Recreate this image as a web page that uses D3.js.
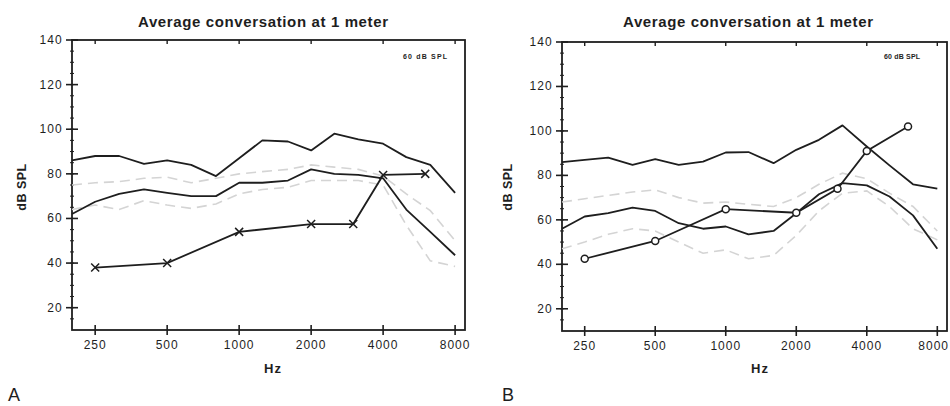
<!DOCTYPE html>
<html>
<head>
<meta charset="utf-8">
<script src="https://cdn.jsdelivr.net/npm/d3@7"></script>
<style>
  html, body { margin: 0; padding: 0; background: #fff; }
  svg { display: block; font-family: "Liberation Sans", Arial, sans-serif; }
</style>
</head>
<body>
<svg id="chart" width="950" height="406"></svg>
<script>
// 1/3-octave bands of the speech spectrum curves
const BAND_HZ = [200, 250, 315, 400, 500, 630, 800, 1000, 1250, 1600, 2000, 2500, 3150, 4000, 5000, 6300, 8000];
// audiometric frequencies of the measured curve
const AUDIO_HZ = [250, 500, 1000, 2000, 3000, 4000, 6000];

const X_TICKS = [250, 500, 1000, 2000, 4000, 8000];
const Y_TICKS = [20, 40, 60, 80, 100, 120, 140];
const Y_MINOR = d3.range(15, 140, 5);

const TITLE = 'Average conversation at 1 meter';
const LEVEL_NOTE = '60 dB SPL';

// panel A
const A_UPPER = [86, 88, 88, 84.5, 86, 84, 79, 87, 95, 94.5, 90.5, 98, 95.5, 93.5, 87.5, 84, 71.5];
const A_MIDDLE = [62, 67.5, 71, 73, 71.5, 70, 70, 76, 76, 77, 82, 80, 79.5, 78, 64, 54, 43.5];
const A_GRAY_HIGH = [75, 76, 76.5, 78, 78.5, 76, 78, 80, 81, 82, 84, 83, 82, 79, 71, 63.5, 50];
const A_GRAY_LOW = [64, 66, 64, 68, 66, 64.5, 66.5, 71, 73, 74, 77, 77, 77, 75, 57, 41, 38.5];
const A_MEASURED = [38, 40, 54, 57.5, 57.5, 79.5, 80];

// panel B
const B_UPPER = [86, 87, 88, 84.7, 87.3, 84.7, 86.2, 90.3, 90.5, 85.5, 91.5, 96, 102.5, 93, 84.5, 76, 74];
const B_MIDDLE = [56, 61.5, 63, 65.5, 64, 58.5, 56, 57, 53.5, 55, 63, 71.5, 76.5, 75.5, 70.5, 62, 47];
const B_GRAY_HIGH = [68, 69.5, 71, 72.5, 73.5, 70, 67.5, 68, 67, 66, 70, 76, 81, 78.5, 72, 66, 55];
const B_GRAY_LOW = [47, 50, 53.5, 56, 55, 50, 45, 46.5, 42.5, 44, 53, 64, 72, 73, 66, 56, 51];
const B_MEASURED = [42.5, 50.5, 64.8, 63.2, 74, 91, 102];

const panels = [
  {
    letter: 'A', marker: 'cross',
    upper: A_UPPER, middle: A_MIDDLE, grayHigh: A_GRAY_HIGH, grayLow: A_GRAY_LOW, measured: A_MEASURED,
    box: { left: 72, right: 465, top: 40, bottom: 330 },
    titleX: 263, noteX: 425, noteLen: 44, yTitleX: 22, hzX: 273, letterX: 8,
  },
  {
    letter: 'B', marker: 'circle',
    upper: B_UPPER, middle: B_MIDDLE, grayHigh: B_GRAY_HIGH, grayLow: B_GRAY_LOW, measured: B_MEASURED,
    box: { left: 562, right: 947, top: 42, bottom: 331 },
    titleX: 748, noteX: 902, noteLen: 36, yTitleX: 508, hzX: 760, letterX: 502,
  },
];

const INK = '#1e1e1e';
const WIDTH = 950;
const svg = d3.select('#chart');

function crossPath(s) {
  return `M${-s},${-s}L${s},${s}M${-s},${s}L${s},${-s}`;
}

function drawPanel(p) {
  let b = p.box;
  let x = d3.scaleLog().domain([200, 8800]).range([b.left, b.right]);
  let y = d3.scaleLinear().domain([10, 140]).range([b.bottom, b.top]);

  let g = svg.append('g');

  // title + level note
  g.append('text')
    .attr('x', p.titleX).attr('y', 27)
    .attr('text-anchor', 'middle')
    .attr('font-size', 15).attr('font-weight', 'bold')
    .attr('textLength', 250).attr('lengthAdjust', 'spacing')
    .attr('fill', INK)
    .text(TITLE);

  g.append('text')
    .attr('x', p.noteX).attr('y', 59)
    .attr('text-anchor', 'middle')
    .attr('font-size', 7).attr('font-weight', 'bold')
    .attr('textLength', p.noteLen).attr('lengthAdjust', 'spacing')
    .attr('fill', INK)
    .text(LEVEL_NOTE);

  // frame
  g.append('rect')
    .attr('x', b.left).attr('y', b.top)
    .attr('width', b.right - b.left).attr('height', b.bottom - b.top)
    .attr('fill', 'none').attr('stroke', INK).attr('stroke-width', 1.8);

  // left axis: crossing major ticks, small minor ticks
  g.selectAll('line.ymin').data(Y_MINOR).join('line')
    .attr('x1', b.left - 2).attr('x2', b.left + 2)
    .attr('y1', d => y(d)).attr('y2', d => y(d))
    .attr('stroke', INK).attr('stroke-width', 1);
  g.selectAll('line.ymaj').data(Y_TICKS).join('line')
    .attr('x1', b.left - 6).attr('x2', b.left + 6)
    .attr('y1', d => y(d)).attr('y2', d => y(d))
    .attr('stroke', INK).attr('stroke-width', 1.6);
  g.selectAll('text.ylab').data(Y_TICKS).join('text')
    .attr('x', b.left - 9).attr('y', d => y(d) + 4)
    .attr('text-anchor', 'end')
    .attr('font-size', 12).attr('letter-spacing', 1.2)
    .attr('fill', INK)
    .text(d => d);

  // bottom and top ticks
  g.selectAll('line.xmaj').data(X_TICKS).join('line')
    .attr('x1', d => x(d)).attr('x2', d => x(d))
    .attr('y1', b.bottom - 5).attr('y2', b.bottom + 5)
    .attr('stroke', INK).attr('stroke-width', 1.6);
  g.selectAll('line.xtop').data(X_TICKS).join('line')
    .attr('x1', d => x(d)).attr('x2', d => x(d))
    .attr('y1', b.top).attr('y2', b.top + 4)
    .attr('stroke', INK).attr('stroke-width', 1.4);
  g.selectAll('text.xlab').data(X_TICKS).join('text')
    .attr('x', d => x(d)).attr('y', b.bottom + 19)
    .attr('text-anchor', 'middle')
    .attr('font-size', 12).attr('letter-spacing', 1)
    .attr('fill', INK)
    .text(d => d)
    // keep the last label inside the page
    .each(function(d) {
      let half = this.getComputedTextLength() / 2;
      let cx = x(d);
      if (cx + half > WIDTH - 1) d3.select(this).attr('x', WIDTH - 1 - half);
    });

  // axis titles
  g.append('text')
    .attr('transform', `translate(${p.yTitleX + 4}, 187) rotate(-90)`)
    .attr('text-anchor', 'middle')
    .attr('font-size', 12.5).attr('font-weight', 'bold').attr('letter-spacing', 0.5)
    .attr('fill', INK)
    .text('dB SPL');
  g.append('text')
    .attr('x', p.hzX).attr('y', 373)
    .attr('text-anchor', 'middle')
    .attr('font-size', 13).attr('font-weight', 'bold').attr('letter-spacing', 1)
    .attr('fill', INK)
    .text('Hz');

  g.append('text')
    .attr('x', p.letterX).attr('y', 401)
    .attr('font-size', 18)
    .attr('fill', INK)
    .text(p.letter);

  // curves
  let line = d3.line()
    .x((d, i) => x(BAND_HZ[i]))
    .y(d => y(d));

  [p.grayHigh, p.grayLow].forEach(vals => {
    g.append('path')
      .attr('d', line(vals))
      .attr('fill', 'none')
      .attr('stroke', '#d4d4d4').attr('stroke-width', 1.6)
      .attr('stroke-dasharray', '10,6');
  });

  [p.upper, p.middle].forEach(vals => {
    g.append('path')
      .attr('d', line(vals))
      .attr('fill', 'none')
      .attr('stroke', INK).attr('stroke-width', 1.8)
      .attr('stroke-linejoin', 'round');
  });

  let measLine = d3.line()
    .x((d, i) => x(AUDIO_HZ[i]))
    .y(d => y(d));

  g.append('path')
    .attr('d', measLine(p.measured))
    .attr('fill', 'none')
    .attr('stroke', INK).attr('stroke-width', 1.8);

  let pts = g.selectAll('g.pt').data(p.measured).join('g')
    .attr('transform', (d, i) => `translate(${x(AUDIO_HZ[i])}, ${y(d)})`);

  if (p.marker === 'cross') {
    pts.append('path')
      .attr('d', crossPath(4))
      .attr('stroke', INK).attr('stroke-width', 1.5);
  } else {
    pts.append('circle')
      .attr('r', 3.5)
      .attr('fill', '#fff')
      .attr('stroke', INK).attr('stroke-width', 1.5);
  }
}

panels.forEach(drawPanel);
</script>
</body>
</html>
